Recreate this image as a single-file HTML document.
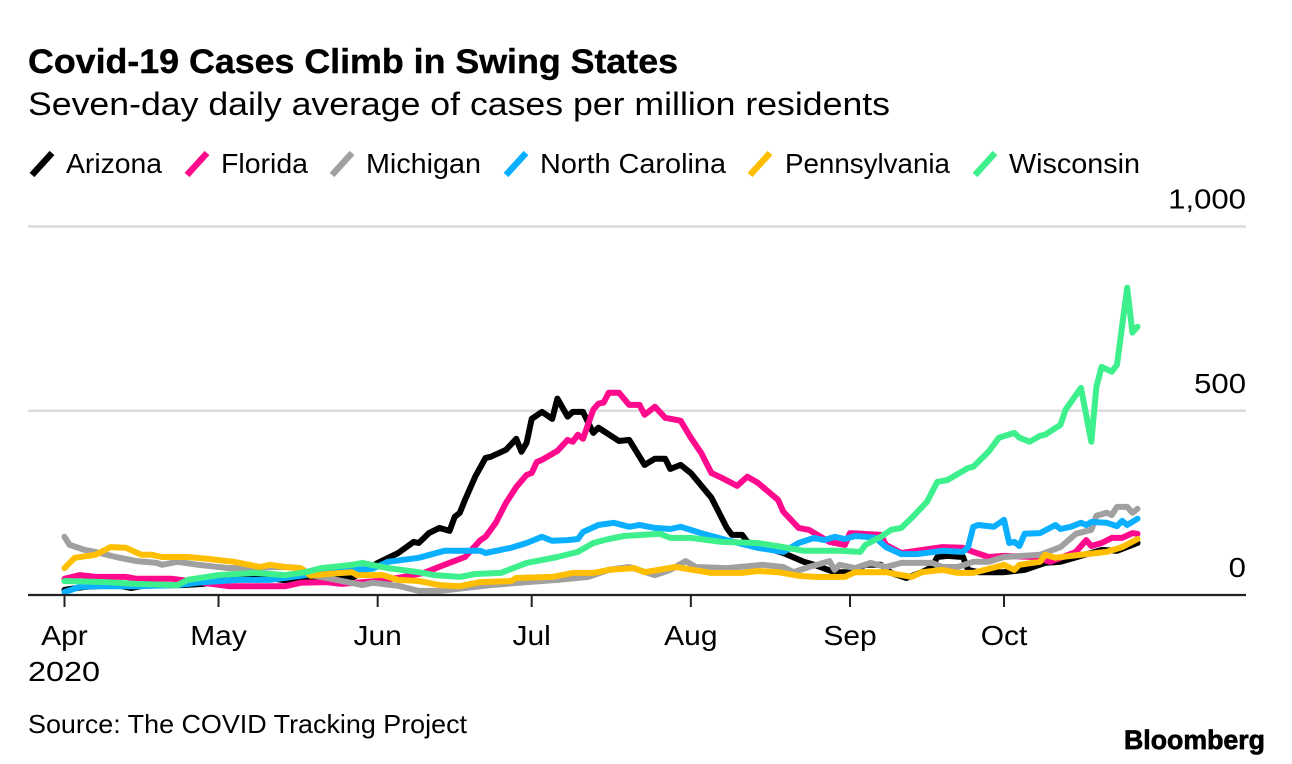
<!DOCTYPE html>
<html lang="en">
<head>
<meta charset="utf-8">
<title>Covid-19 Cases Climb in Swing States</title>
<style>
html,body{margin:0;padding:0;background:#fff;}
svg{display:block;}
text{font-family:"Liberation Sans",sans-serif;fill:#000;}
</style>
</head>
<body>
<svg id="chart" width="1292" height="764" viewBox="0 0 1292 764" xmlns="http://www.w3.org/2000/svg">
  <rect width="1292" height="764" fill="#fff"/>
  <text x="28" y="73" font-size="34" font-weight="700" textLength="650" lengthAdjust="spacingAndGlyphs" stroke="#000" stroke-width="0.4">Covid-19 Cases Climb in Swing States</text>
  <text x="28" y="115" font-size="32" textLength="862" lengthAdjust="spacingAndGlyphs">Seven-day daily average of cases per million residents</text>

  <g>
    <g>
      <line x1="32" y1="175" x2="52" y2="153" stroke="#000" stroke-width="6.5"/>
      <text x="66" y="173" font-size="28" textLength="96" lengthAdjust="spacingAndGlyphs">Arizona</text>
    </g>
    <g>
      <line x1="187" y1="175" x2="207" y2="153" stroke="#ff0a8c" stroke-width="6.5"/>
      <text x="221" y="173" font-size="28" textLength="87" lengthAdjust="spacingAndGlyphs">Florida</text>
    </g>
    <g>
      <line x1="332" y1="175" x2="352" y2="153" stroke="#a0a0a0" stroke-width="6.5"/>
      <text x="366" y="173" font-size="28" textLength="115" lengthAdjust="spacingAndGlyphs">Michigan</text>
    </g>
    <g>
      <line x1="506" y1="175" x2="526" y2="153" stroke="#0ab0ff" stroke-width="6.5"/>
      <text x="540" y="173" font-size="28" textLength="186" lengthAdjust="spacingAndGlyphs">North Carolina</text>
    </g>
    <g>
      <line x1="750" y1="175" x2="770" y2="153" stroke="#ffbf00" stroke-width="6.5"/>
      <text x="785" y="173" font-size="28" textLength="165" lengthAdjust="spacingAndGlyphs">Pennsylvania</text>
    </g>
    <g>
      <line x1="975" y1="175" x2="995" y2="153" stroke="#3df08c" stroke-width="6.5"/>
      <text x="1009" y="173" font-size="28" textLength="131" lengthAdjust="spacingAndGlyphs">Wisconsin</text>
    </g>
  </g>

  <g id="grid"></g>
  <g id="y-labels"></g>
  <g id="series"></g>
  <g id="x-axis"></g>

  <text x="28" y="681" font-size="28" textLength="72" lengthAdjust="spacingAndGlyphs">2020</text>
  <text x="28" y="733" font-size="26" textLength="439" lengthAdjust="spacingAndGlyphs">Source: The COVID Tracking Project</text>
  <text x="1124" y="749" font-size="27" font-weight="700" textLength="141" lengthAdjust="spacingAndGlyphs" stroke="#000" stroke-width="0.7">Bloomberg</text>
</svg>

<script>
const monthLabels = ["Apr","May","Jun","Jul","Aug","Sep","Oct"];
const monthDays = [0,30,61,91,122,153,183];
const yTickValues = [0,500,1000];
const yTickLabels = ["0","500","1,000"];

const arizonaDays = [0,4,10,13,16,23,27,34,38,44,50,56,61,65,68,69,71,73,75,76,77,78,80,82,83,86,88,89,90,91,93,95,96,98,99,101,103,104,108,110,113,115,117,118,120,122,126,129,130,132,133,140,144,146,150,153,156,159,161,164,167,169,170,172,175,176,178,183,187,191,194,202,205,209];
const arizonaValues = [14,22,27,19,27,27,30,49,49,38,44,46,87,114,144,141,168,182,174,212,223,258,321,372,375,394,424,389,413,478,497,478,533,484,497,497,440,454,418,421,353,370,370,342,353,331,264,182,163,163,144,114,90,82,62,62,82,82,60,46,62,76,103,106,103,68,62,62,68,87,90,122,120,141];

const floridaDays = [0,3,6,12,14,21,27,32,37,43,46,51,54,61,66,70,74,78,81,82,84,86,88,90,91,92,93,96,98,99,100,101,103,104,105,106,108,110,112,113,115,117,120,122,124,126,128,131,133,135,139,140,143,145,149,152,153,159,160,163,167,171,175,177,180,183,189,192,197,199,200,202,204,206,208,209];
const floridaValues = [44,54,49,49,44,44,33,24,24,24,33,35,30,38,49,60,82,103,149,158,196,250,293,326,331,361,367,391,421,416,435,424,503,519,522,549,549,516,516,489,511,481,473,427,386,331,318,296,321,305,258,226,182,177,144,136,168,163,136,114,122,130,128,117,103,106,103,90,117,149,133,141,155,155,168,166];

const michiganDays = [0,1,4,6,10,14,18,19,22,26,32,43,46,48,53,58,60,65,69,73,78,83,90,96,102,106,110,115,118,121,123,129,136,140,142,145,149,150,151,154,157,160,163,169,171,174,177,180,183,190,194,197,200,201,203,204,205,207,208,209];
const michiganValues = [158,136,122,117,103,92,87,82,90,82,73,76,73,54,41,27,33,25,11,11,19,27,35,41,49,68,76,54,68,92,76,73,82,76,62,76,92,68,82,73,87,76,87,87,76,76,90,90,103,109,130,166,177,215,223,217,239,239,223,234];

const ncDays = [0,3,6,14,22,27,34,40,46,50,56,60,63,69,74,81,82,87,90,93,95,98,100,101,104,107,110,112,115,118,120,124,129,135,140,143,146,148,150,152,154,156,158,160,163,166,171,175,176,177,178,180,181,183,184,185,186,187,190,193,194,196,198,199,200,203,205,206,207,209];
const ncValues = [8,22,24,24,27,35,41,41,52,62,68,71,90,101,120,120,114,128,141,158,147,149,152,171,190,196,185,190,182,179,185,168,149,128,117,141,155,149,158,152,160,158,155,130,111,111,120,117,130,185,190,187,185,204,141,144,133,166,168,190,179,185,196,190,198,196,187,201,190,207];

const pennsylvaniaDays = [0,2,6,9,12,15,17,19,24,28,33,36,38,40,43,46,48,51,56,57,62,65,69,73,77,81,87,88,95,99,103,106,111,113,119,126,132,135,139,143,146,152,154,160,165,167,171,174,177,183,185,186,190,191,193,196,203,206,209];
const pennsylvaniaValues = [73,101,109,130,128,109,109,103,103,98,90,82,76,82,76,73,52,57,62,54,54,41,38,27,24,35,38,46,49,60,60,68,73,62,76,60,60,65,62,52,49,49,62,62,49,62,68,60,60,82,68,82,90,109,101,106,117,130,152];

const wisconsinDays = [0,8,14,22,24,30,37,43,47,50,56,58,63,69,72,77,80,85,90,96,100,103,106,109,116,118,122,128,135,140,144,151,155,156,159,161,163,165,168,170,172,176,177,180,182,185,186,188,190,191,194,195,198,200,201,202,204,205,207,208,209];
const wisconsinValues = [38,35,30,27,41,54,60,54,62,73,82,87,73,62,54,49,57,60,87,103,117,141,152,160,166,155,155,144,141,130,120,120,117,136,158,177,182,209,253,307,312,345,348,389,427,440,427,416,432,435,462,503,562,416,565,619,606,625,834,712,728];

const seriesNames = ["arizona","florida","michigan","north-carolina","pennsylvania","wisconsin"];
const seriesColors = ["#000000","#ff0a8c","#a0a0a0","#0ab0ff","#ffbf00","#3df08c"];
const seriesDays = [arizonaDays,floridaDays,michiganDays,ncDays,pennsylvaniaDays,wisconsinDays];
const seriesValues = [arizonaValues,floridaValues,michiganValues,ncValues,pennsylvaniaValues,wisconsinValues];

const NS = "http://www.w3.org/2000/svg";
function xScale(day){ return 64.5 + day * 5.134; }
function yScale(value){ return 595 - value * 0.3685; }

const gridLayer = document.getElementById("grid");
const yLabelLayer = document.getElementById("y-labels");
yTickValues.forEach(function(v,i){
  if (v !== 0) {
    const g = document.createElementNS(NS,"line");
    g.setAttribute("x1",28);
    g.setAttribute("x2",1246);
    g.setAttribute("y1",yScale(v));
    g.setAttribute("y2",yScale(v));
    g.setAttribute("stroke","#dcdcdc");
    g.setAttribute("stroke-width","2.5");
    
    
    gridLayer.appendChild(g);
  }
  const t = document.createElementNS(NS,"text");
  t.setAttribute("x",1246);
  t.setAttribute("y",yScale(v)-18);
  t.setAttribute("font-size","28");
  t.setAttribute("text-anchor","end");
  t.textContent = yTickLabels[i];
  
  
  yLabelLayer.appendChild(t);
  t.setAttribute("lengthAdjust","spacingAndGlyphs");
  t.setAttribute("textLength",(t.getComputedTextLength()*1.11).toFixed(1));
});

const seriesLayer = document.getElementById("series");
seriesNames.forEach(function(name,i){
  const pts = seriesDays[i].map(function(d,j){
    return xScale(d).toFixed(1)+","+yScale(seriesValues[i][j]).toFixed(1);
  }).join(" ");
  const p = document.createElementNS(NS,"polyline");
  p.setAttribute("points",pts);
  p.setAttribute("fill","none");
  p.setAttribute("stroke",seriesColors[i]);
  p.setAttribute("stroke-width","6");
  p.setAttribute("stroke-linejoin","round");
  p.setAttribute("stroke-linecap","round");
  
  
  seriesLayer.appendChild(p);
});

const xAxisLayer = document.getElementById("x-axis");
const axisLine = document.createElementNS(NS,"line");
axisLine.setAttribute("x1",28);
axisLine.setAttribute("x2",1246);
axisLine.setAttribute("y1",yScale(0));
axisLine.setAttribute("y2",yScale(0));
axisLine.setAttribute("stroke","#222");
axisLine.setAttribute("stroke-width","2.2");


xAxisLayer.appendChild(axisLine);

monthDays.forEach(function(d,i){
  const tick = document.createElementNS(NS,"line");
  tick.setAttribute("x1",xScale(d));
  tick.setAttribute("x2",xScale(d));
  tick.setAttribute("y1",yScale(0));
  tick.setAttribute("y2",yScale(0)+12);
  tick.setAttribute("stroke","#222");
  tick.setAttribute("stroke-width","2");
  
  
  xAxisLayer.appendChild(tick);
  const t = document.createElementNS(NS,"text");
  t.setAttribute("x",xScale(d));
  t.setAttribute("y",645);
  t.setAttribute("font-size","28");
  t.setAttribute("text-anchor","middle");
  t.textContent = monthLabels[i];
  
  
  xAxisLayer.appendChild(t);
  t.setAttribute("lengthAdjust","spacingAndGlyphs");
  t.setAttribute("textLength",(t.getComputedTextLength()*1.07).toFixed(1));
});
</script>
</body>
</html>
